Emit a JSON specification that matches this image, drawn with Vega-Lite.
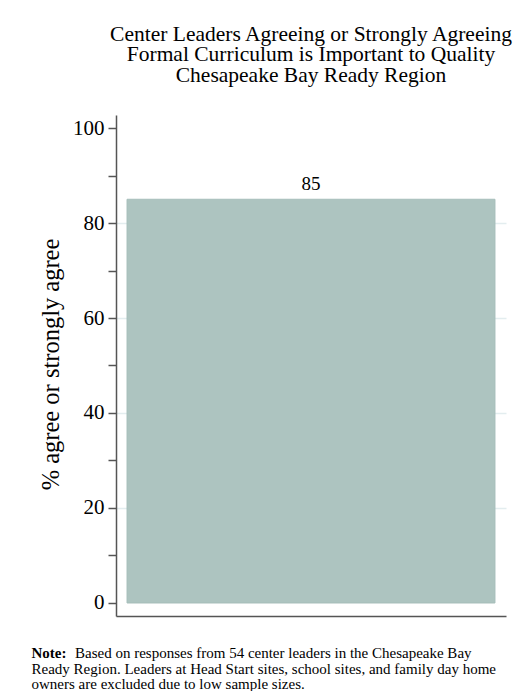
{
  "$schema": "https://vega.github.io/schema/vega-lite/v6.json",
  "width": 390,
  "height": 501,
  "autosize": "none",
  "padding": {"left": 116, "top": 115, "right": 16, "bottom": 75},
  "background": "white",
  "config": {"view": {"stroke": null}, "font": "Liberation Serif"},
  "title": {
    "text": ["Center Leaders Agreeing or Strongly Agreeing", "Formal Curriculum is Important to Quality", "Chesapeake Bay Ready Region"],
    "fontSize": 21.5,
    "font": "Liberation Serif",
    "fontWeight": "normal",
    "anchor": "middle",
    "frame": "group",
    "offset": 29,
    "lineHeight": 20.5,
    "color": "#000"
  },
  "data": {"values": [{"region": "Chesapeake Bay Ready Region", "pct": 85}]},
  "layer": [
    {
      "mark": {"type": "bar", "fill": "#adc4c0", "stroke": "#a6beba", "strokeWidth": 1},
      "encoding": {
        "x": {
          "field": "region", "type": "nominal",
          "scale": {"paddingInner": 0, "paddingOuter": 0.03},
          "axis": {
            "orient": "bottom", "domain": true, "domainColor": "#555", "domainWidth": 1.5,
            "ticks": false, "tickSize": 0, "labelAngle": 0,
            "labelExpr": "'Based on responses from 54 center leaders in the Chesapeake Bay'",
            "labelAlign": "left", "labelBaseline": "alphabetic", "labelOffset": -236, "labelPadding": 41,
            "labelFontSize": 15, "labelColor": "#000", "labelFont": "Liberation Serif",
            "labelLimit": 1000, "labelOverlap": false, "labelBound": false, "labelFlush": false,
            "title": "Note:", "titleFontWeight": "bold", "titleFontSize": 15, "titleFont": "Liberation Serif",
            "titleX": -85, "titleY": 41, "titleAlign": "left", "titleBaseline": "alphabetic",
            "titleAnchor": null, "titleColor": "#000"
          }
        },
        "y": {
          "field": "pct", "type": "quantitative",
          "scale": {"domain": [-2.74, 102.74], "nice": false, "zero": false},
          "axis": {
            "values": [0, 10, 20, 30, 40, 50, 60, 70, 80, 90, 100],
            "labelExpr": "datum.value % 20 === 0 ? datum.label : ''",
            "tickSize": 8, "tickColor": "#555", "tickWidth": 1.5,
            "domainColor": "#555", "domainWidth": 1.5,
            "labelFontSize": 21, "labelPadding": 4, "labelColor": "#000", "labelFont": "Liberation Serif",
            "grid": true, "gridColor": "#e3edef", "gridWidth": 1.5,
            "gridOpacity": {"condition": {"test": "datum.value % 20 === 0 && datum.value > 0 && datum.value < 100", "value": 1}, "value": 0},
            "title": "% agree or strongly agree", "titleFontSize": 24.5, "titleFontWeight": "normal",
            "titleFont": "Liberation Serif", "titleColor": "#000",
            "titleX": -65, "titleY": 249, "titleAngle": 270, "titleAlign": "center", "titleBaseline": "middle", "titleAnchor": null
          }
        }
      }
    },
    {
      "mark": {"type": "text", "fontSize": 19, "baseline": "alphabetic", "dy": -9, "color": "#000", "font": "Liberation Serif"},
      "encoding": {
        "x": {"field": "region", "type": "nominal"},
        "y": {
          "field": "pct", "type": "quantitative",
          "scale": {"domain": [-2.74, 102.74], "nice": false, "zero": false},
          "axis": {
            "orient": "right", "domain": false, "ticks": false, "labels": false, "grid": false,
            "title": ["Ready Region. Leaders at Head Start sites, school sites, and family day home", "owners are excluded due to low sample sizes."],
            "titleAngle": 0, "titleAlign": "left", "titleBaseline": "alphabetic",
            "titleX": -475, "titleY": 558, "titleFontSize": 15, "titleFontWeight": "normal",
            "titleFont": "Liberation Serif", "titleLineHeight": 15.5, "titleColor": "#000", "titleAnchor": null
          }
        },
        "text": {"field": "pct", "type": "quantitative"}
      }
    }
  ],
  "resolve": {"scale": {"y": "independent"}, "axis": {"y": "independent"}}
}
